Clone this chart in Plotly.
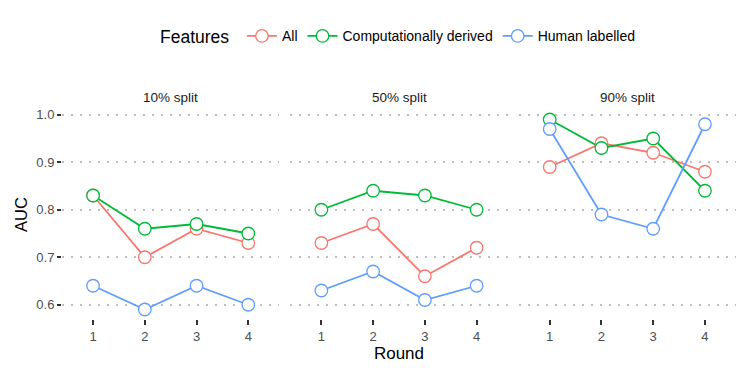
import plotly.graph_objects as go
from plotly.subplots import make_subplots

# data
rounds = [1, 2, 3, 4]
splits = ["10% split", "50% split", "90% split"]
features = ["All", "Computationally derived", "Human labelled"]
colors = {"All": "#F8766D", "Computationally derived": "#00BA38", "Human labelled": "#619CFF"}

auc_all = [
    [0.83, 0.70, 0.76, 0.73],
    [0.73, 0.77, 0.66, 0.72],
    [0.89, 0.94, 0.92, 0.88],
]
auc_comp = [
    [0.83, 0.76, 0.77, 0.75],
    [0.80, 0.84, 0.83, 0.80],
    [0.99, 0.93, 0.95, 0.84],
]
auc_human = [
    [0.64, 0.59, 0.64, 0.60],
    [0.63, 0.67, 0.61, 0.64],
    [0.97, 0.79, 0.76, 0.98],
]
series = {"All": auc_all, "Computationally derived": auc_comp, "Human labelled": auc_human}

FONT = "Liberation Sans, Arial, sans-serif"


def marker_style(feat):
    return {"symbol": "circle", "size": 12.5, "color": "white",
            "line": {"color": colors[feat], "width": 1.3}}


fig = make_subplots(rows=1, cols=3, shared_yaxes=True, horizontal_spacing=0.0163)

for c, split in enumerate(splits):
    # lines first, then all the points on top (like geom_line + geom_point)
    for feat in features:
        fig.add_trace(
            go.Scatter(
                x=rounds, y=series[feat][c], mode="lines",
                name=feat, legendgroup=feat, showlegend=False,
                line={"color": colors[feat], "width": 1.8},
            ),
            row=1, col=c + 1,
        )
    for feat in features:
        fig.add_trace(
            go.Scatter(
                x=rounds, y=series[feat][c], mode="markers",
                name=feat, legendgroup=feat, showlegend=False,
                marker=marker_style(feat),
            ),
            row=1, col=c + 1,
        )
    fig.add_annotation(
        text=split, xref=f"x{'' if c == 0 else c + 1} domain", yref="paper",
        x=0.5, y=1.0, yshift=13, showarrow=False, yanchor="middle",
        font={"size": 13.5, "color": "#1A1A1A", "family": FONT},
    )

# legend-only entries (line + open circle keys)
for feat in features:
    fig.add_trace(
        go.Scatter(
            x=[None], y=[None], mode="lines+markers", name=feat, legendgroup=feat,
            line={"color": colors[feat], "width": 1.8}, marker=marker_style(feat),
        ),
        row=1, col=1,
    )

fig.update_xaxes(
    range=[0.4, 4.6], tickvals=rounds, ticktext=[str(r) for r in rounds],
    showgrid=False, zeroline=False, showline=False, automargin=False,
    ticks="outside", ticklen=5, tickwidth=1.5, tickcolor="#333333",
    tickfont={"size": 13, "color": "#4D4D4D", "family": FONT},
)
fig.update_xaxes(title={"text": "Round", "font": {"size": 17, "color": "black", "family": FONT},
                        "standoff": 4}, row=1, col=2)
fig.update_yaxes(
    range=[0.57, 1.01], tickvals=[0.6, 0.7, 0.8, 0.9, 1.0],
    ticktext=["0.6", "0.7", "0.8", "0.9", "1.0"],
    showgrid=True, gridcolor="#BEBEBE", gridwidth=1.5, griddash="2px,7px",
    zeroline=False, showline=False, automargin=False,
    tickfont={"size": 13, "color": "#4D4D4D", "family": FONT},
)
fig.update_yaxes(ticks="outside", ticklen=4, tickwidth=1.5, tickcolor="#333333",
                 title={"text": "AUC", "font": {"size": 16.5, "color": "black", "family": FONT},
                        "standoff": 4}, row=1, col=1)

fig.update_layout(
    width=747, height=374,
    margin={"l": 62, "r": 11, "t": 110, "b": 55},
    paper_bgcolor="white", plot_bgcolor="white",
    font={"family": FONT},
    legend={
        "orientation": "h", "x": 0.5, "xanchor": "center", "y": 1.35, "yanchor": "middle",
        "title": {"text": "Features ", "font": {"size": 17.5, "color": "black"}},
        "font": {"size": 14, "color": "black"},
    },
)

# drop the browser's default 8px body margin so the figure sits at the page corner
fig.write_html("out.html", config={"displayModeBar": False},
               post_script="document.body.style.margin='0px';")
